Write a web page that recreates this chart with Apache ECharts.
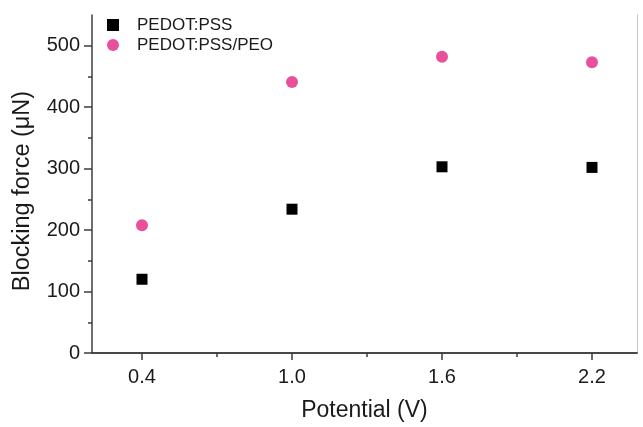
<!DOCTYPE html>
<html>
<head>
<meta charset="utf-8">
<script src="https://cdn.jsdelivr.net/npm/echarts@6/dist/echarts.min.js"></script>
<style>html,body{margin:0;padding:0;background:#fff}#c{width:643px;height:427px}</style>
</head>
<body>
<div id="c"></div>
<script>
var potentials = [0.4, 1.0, 1.6, 2.2];
var pedotPss = [120, 234, 303, 302];
var pedotPssPeo = [208, 441, 482, 473];
var xMajorTicks = [0.4, 1.0, 1.6, 2.2];
var xMinorTicks = [0.7, 1.3, 1.9];
var yMajorTicks = [0, 100, 200, 300, 400, 500];
var yMinorTicks = [50, 150, 250, 350, 450];

var font = 'Arial, "Liberation Sans", sans-serif';
var axisColor = '#3c3c3c';
var chart = echarts.init(document.getElementById('c'));
function pts(xs, ys){ return xs.map(function(x,i){ return [x, ys[i]]; }); }

chart.setOption({
  animation: false,
  backgroundColor: '#fff',
  grid: { left: 92, right: 6, top: 15, bottom: 70, containLabel: false },
  legend: {
    orient: 'vertical', left: 102, top: 10, itemWidth: 12, itemHeight: 12, itemGap: 0,
    textStyle: { fontFamily: font, fontSize: 17, lineHeight: 20, color: '#1a1a1a', padding: [0,0,0,13] },
    data: [
      { name: 'PEDOT:PSS', icon: 'rect', itemStyle: { color: '#000', opacity: 1 } },
      { name: 'PEDOT:PSS/PEO', icon: 'circle', itemStyle: { color: '#e8509b', opacity: 1 } }
    ]
  },
  xAxis: [
    {
      type: 'value', min: 0.2, max: 2.38, position: 'bottom',
      name: 'Potential (V)', nameLocation: 'middle', nameGap: 46,
      nameTextStyle: { fontFamily: font, fontSize: 23, color: '#1a1a1a' },
      axisLine: { show: true, lineStyle: { color: axisColor, width: 1.5 } },
      axisTick: { show: true, customValues: xMajorTicks, length: 7, lineStyle: { color: axisColor, width: 1.5 } },
      axisLabel: { customValues: xMajorTicks, margin: 14, fontFamily: font, fontSize: 20, color: '#1a1a1a',
        formatter: function(v){ return v.toFixed(1); } },
      splitLine: { show: false }
    },
    {
      type: 'value', min: 0.2, max: 2.38, position: 'bottom',
      axisLine: { show: false },
      axisTick: { show: true, customValues: xMinorTicks, length: 4, lineStyle: { color: axisColor, width: 1.5 } },
      axisLabel: { show: false },
      splitLine: { show: false }
    },
    {
      type: 'value', min: 0.2, max: 2.38, position: 'top',
      axisLine: { show: true, lineStyle: { color: axisColor, width: 1.5 } },
      axisTick: { show: false }, axisLabel: { show: false }, splitLine: { show: false }
    }
  ],
  yAxis: [
    {
      type: 'value', min: 0, max: 550, position: 'left',
      name: 'Blocking force (\u03bcN)', nameLocation: 'middle', nameGap: 57,
      nameTextStyle: { fontFamily: font, fontSize: 23.5, color: '#1a1a1a', padding: [0, 14, 0, 0] },
      axisLine: { show: true, lineStyle: { color: axisColor, width: 1.5 } },
      axisTick: { show: true, customValues: yMajorTicks, length: 8, lineStyle: { color: axisColor, width: 1.5 } },
      axisLabel: { customValues: yMajorTicks, margin: 12, fontFamily: font, fontSize: 20, color: '#1a1a1a' },
      splitLine: { show: false }
    },
    {
      type: 'value', min: 0, max: 550, position: 'left',
      axisLine: { show: false },
      axisTick: { show: true, customValues: yMinorTicks, length: 4, lineStyle: { color: axisColor, width: 1.5 } },
      axisLabel: { show: false }, splitLine: { show: false }
    },
    {
      type: 'value', min: 0, max: 550, position: 'right',
      axisLine: { show: true, lineStyle: { color: '#c8c8c8', width: 1 } },
      axisTick: { show: false }, axisLabel: { show: false }, splitLine: { show: false }
    }
  ],
  series: [
    {
      name: 'PEDOT:PSS', type: 'scatter', xAxisIndex: 0, yAxisIndex: 0,
      symbol: 'rect', symbolSize: 11, itemStyle: { color: '#000', opacity: 1 },
      data: pts(potentials, pedotPss)
    },
    {
      name: 'PEDOT:PSS/PEO', type: 'scatter', xAxisIndex: 0, yAxisIndex: 0,
      symbol: 'circle', symbolSize: 12, itemStyle: { color: '#e8509b', opacity: 1 },
      data: pts(potentials, pedotPssPeo)
    }
  ]
});
</script>
</body>
</html>
